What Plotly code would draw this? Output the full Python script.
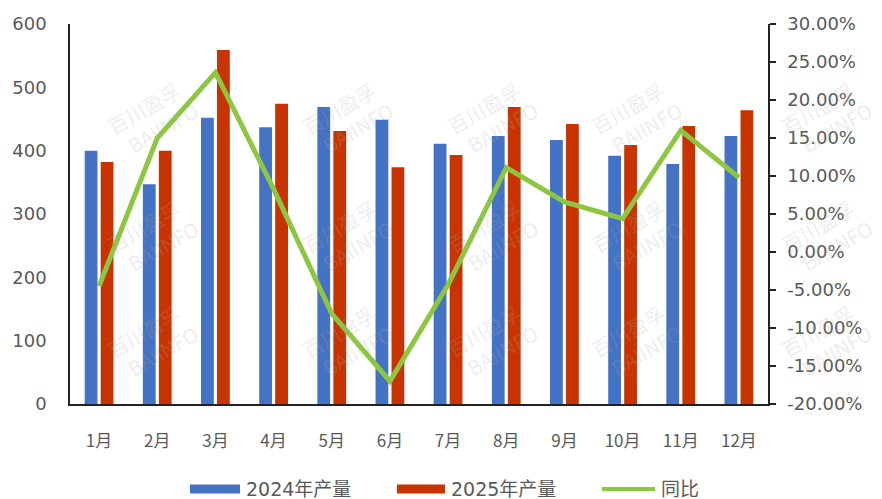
import plotly.graph_objects as go

months = ["1月", "2月", "3月", "4月", "5月", "6月", "7月", "8月", "9月", "10月", "11月", "12月"]
output_2024 = [400, 347, 452, 437, 469, 449, 411, 423, 417, 392, 379, 423]
output_2025 = [382, 400, 559, 474, 431, 374, 393, 469, 442, 409, 439, 464]
yoy_pct = [-4.5, 15.0, 23.6, 8.3, -8.1, -17.0, -4.3, 11.1, 6.6, 4.4, 16.0, 9.8]

left_ticks = [0, 100, 200, 300, 400, 500, 600]
right_ticks = [-20, -15, -10, -5, 0, 5, 10, 15, 20, 25, 30]
right_tick_text = [f"{v:.2f}%" for v in right_ticks]

series_names = ["2024年产量", "2025年产量", "同比"]

BLUE = "#4472C4"
RED = "#C93300"
GREEN = "#8DC640"
GRAY = "#595959"
NUM_FONT = "DejaVu Sans, Noto Sans CJK SC"

# page body has an 8px margin; plot area in screen px: x 70..768, y 24..404
W, H = 874, 491
ML, MR, MT, MB = 62, 114, 16, 95
PX0, PX1, PY0, PY1 = 70, 768, 24, 404


def px(xs):
    return (xs - PX0) / (PX1 - PX0)


def py(ys):
    return (PY1 - ys) / (PY1 - PY0)


fig = go.Figure()
fig.add_trace(go.Bar(x=months, y=output_2024, name=series_names[0], marker_color=BLUE,
                     marker_line_width=0, showlegend=False))
fig.add_trace(go.Bar(x=months, y=output_2025, name=series_names[1], marker_color=RED,
                     marker_line_width=0, showlegend=False))
fig.add_trace(go.Scatter(x=months, y=yoy_pct, name=series_names[2], mode="lines", yaxis="y2",
                         line=dict(color=GREEN, width=5), showlegend=False))

annotations = []
# watermarks
for yy in [70, 237, 392]:
    for xx in [95, 290, 490, 690, 880]:
        annotations.append(dict(xref="paper", yref="paper", x=px(xx), y=py(yy),
                                text="百川盈孚<br>   BAIINFO", showarrow=False, textangle=-30,
                                font=dict(size=20, color="rgba(170,170,170,0.22)",
                                          family="Noto Sans CJK SC")))

# manual legend
shapes = []
leg_y = 489
swatch = [(190, 240, BLUE, "rect"), (397, 445, RED, "rect"), (602, 655, GREEN, "line")]
for (x0, x1, col, kind), name in zip(swatch, series_names):
    if kind == "rect":
        shapes.append(dict(type="rect", xref="paper", yref="paper",
                           x0=px(x0), x1=px(x1), y0=py(leg_y + 4.5), y1=py(leg_y - 4.5),
                           fillcolor=col, line_width=0))
    else:
        shapes.append(dict(type="line", xref="paper", yref="paper",
                           x0=px(x0), x1=px(x1), y0=py(leg_y), y1=py(leg_y),
                           line=dict(color=col, width=4)))
    annotations.append(dict(xref="paper", yref="paper", x=px(x1 + 4), y=py(leg_y),
                            xanchor="left", yanchor="middle", showarrow=False, text=name,
                            font=dict(size=19, color=GRAY, family=NUM_FONT)))

fig.update_layout(
    width=W, height=H,
    margin=dict(l=ML, r=MR, t=MT, b=MB),
    paper_bgcolor="white", plot_bgcolor="white",
    barmode="group", bargap=0.45, bargroupgap=0.2,
    showlegend=False,
    font=dict(family=NUM_FONT, size=18, color=GRAY),
    xaxis=dict(showline=True, linecolor="#222222", linewidth=1.5, ticks="",
               showgrid=False, automargin=False,
               tickfont=dict(size=17, color=GRAY, family="Noto Sans CJK SC"),
               ticklabelstandoff=21),
    yaxis=dict(range=[0, 600], tickvals=left_ticks, showline=True, linecolor="#222222",
               linewidth=1.5, showgrid=False, zeroline=False, ticks="", automargin=False,
               tickfont=dict(size=18, color=GRAY), ticklabelstandoff=18),
    yaxis2=dict(range=[-20, 30], tickvals=right_ticks, ticktext=right_tick_text,
                overlaying="y", side="right", showline=True, linecolor="#222222",
                linewidth=1.5, showgrid=False, zeroline=False, ticks="outside",
                ticklen=6, tickcolor="#222222", tickwidth=1.5, automargin=False,
                tickfont=dict(size=18, color=GRAY), ticklabelstandoff=8),
    annotations=annotations,
    shapes=shapes,
)

fig.write_html("out.html")
